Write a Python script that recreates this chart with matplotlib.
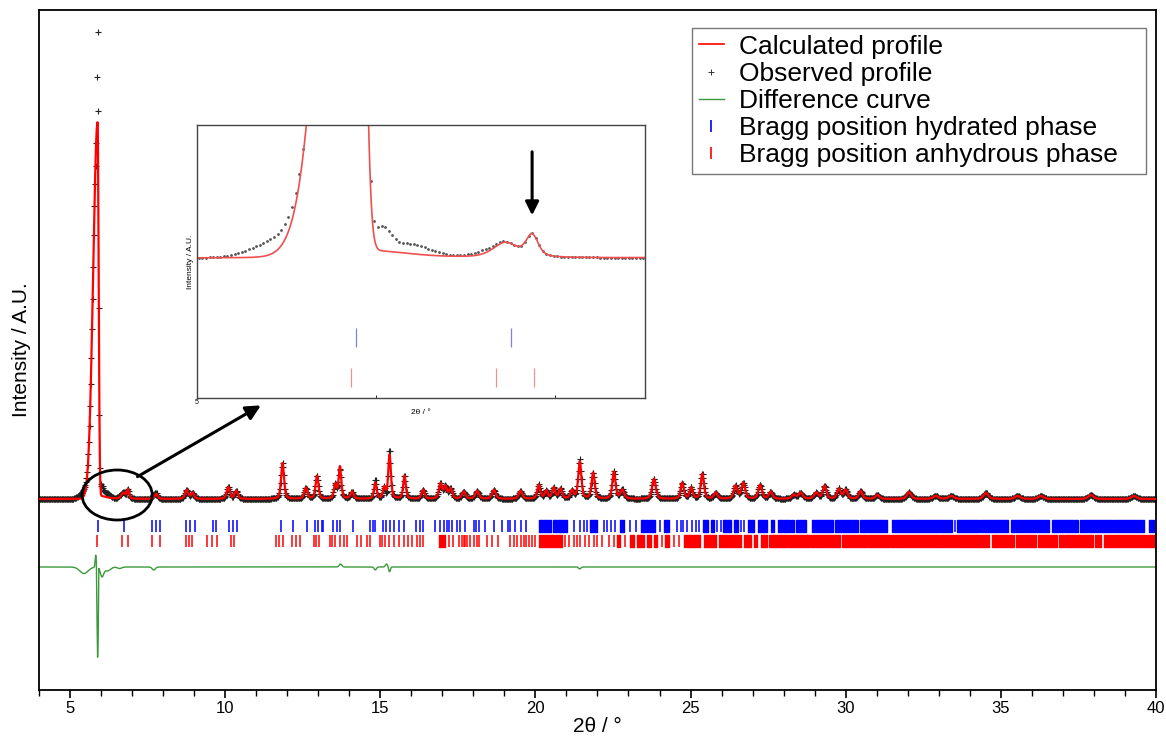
import numpy as np
import matplotlib.pyplot as plt
from matplotlib.lines import Line2D
from matplotlib.patches import Ellipse
from matplotlib.ticker import MultipleLocator

plt.rcParams['font.family'] = ['Liberation Sans', 'DejaVu Sans']

# main reflection (asymmetric, gaussian): position, height, hwhm left / right
main_pos = 5.89
main_height = 374
main_hw_left = 0.167
main_hw_right = 0.04

# other reflections of the calculated profile (pseudo-Voigt)
peak_pos = [5.97, 6.72, 6.87, 7.78, 8.76, 8.95, 10.10, 10.36, 11.85, 12.60,
            12.96, 13.55, 13.70, 14.09, 14.84, 15.13, 15.30, 15.78, 16.38, 16.94,
            17.10, 17.27, 17.69, 18.12, 18.66, 19.52, 20.11, 20.35, 20.59, 20.81,
            21.18, 21.43, 21.86, 22.53, 22.80, 23.82, 24.73, 25.02, 25.38, 25.81,
            26.45, 26.70, 27.24, 27.58, 28.33, 28.55, 29.05, 29.32, 29.78, 30.00,
            30.48, 31.02, 32.04, 32.90, 33.40, 34.52, 35.54, 36.29, 37.90, 39.29]
peak_height = [3, 6, 9, 5, 9, 6, 12, 8, 36, 11,
               23, 14, 32, 7, 16, 11, 44, 23, 9, 15,
               12, 10, 7, 8, 9, 8, 14, 8, 11, 10,
               8, 37, 26, 27, 9, 20, 16, 11, 25, 6,
               13, 16, 14, 7, 4, 6, 6, 13, 10, 9,
               8, 4, 7, 3, 3, 6, 3, 3, 4, 3]
peak_hw = [0.25, 0.08, 0.04, 0.06, 0.06, 0.06, 0.06, 0.06, 0.055, 0.06,
           0.055, 0.05, 0.05, 0.06, 0.05, 0.05, 0.05, 0.05, 0.06, 0.06,
           0.06, 0.06, 0.07, 0.07, 0.07, 0.07, 0.06, 0.06, 0.06, 0.06,
           0.06, 0.06, 0.06, 0.06, 0.07, 0.07, 0.06, 0.06, 0.06, 0.07,
           0.07, 0.07, 0.07, 0.07, 0.08, 0.08, 0.08, 0.07, 0.07, 0.07,
           0.07, 0.08, 0.08, 0.10, 0.10, 0.09, 0.10, 0.10, 0.10, 0.10]

# observed minus calculated deviations (gaussian): position, amplitude, hwhm
dev_pos = [5.45, 5.83, 6.03, 6.20, 6.60, 7.70, 13.72, 14.84, 15.20, 15.30, 21.43]
dev_amp = [6.5, -12, 9, 4, 1.5, 3, -3, 3, -3, 5, 2]
dev_hw = [0.16, 0.02, 0.06, 0.12, 0.08, 0.06, 0.05, 0.04, 0.04, 0.03, 0.04]

# observed points on top of the main reflection
top_obs_pos = [5.87, 5.89, 5.91]
top_obs_int = [422, 467, 388]

diff_offset = -68

# Bragg positions
hyd_ticks = [5.89, 6.75, 7.65, 7.78, 7.89, 8.74, 8.88, 9.03, 9.60, 9.70, 10.12,
             10.25, 10.38, 11.80, 12.20, 12.64, 12.90, 12.99, 13.12, 13.17, 13.49,
             13.60, 13.71, 14.12, 14.68, 14.78, 14.84, 15.09, 15.17, 15.32, 15.45,
             15.62, 15.78, 16.16, 16.27, 16.38, 16.77, 16.94, 17.04, 17.15, 17.20,
             17.31, 17.47, 17.58, 17.74, 18.01, 18.10, 18.17, 18.39, 18.66, 18.93,
             19.11, 19.19, 19.35, 19.52, 19.71, 21.24, 21.43, 21.56, 21.67, 22.20,
             22.31, 22.44, 22.58, 23.06, 23.23, 24.03, 24.55, 24.68, 24.77, 24.89,
             25.05, 25.16, 25.26, 25.86, 25.97, 26.61, 26.71, 33.52]
hyd_blocks = [(20.10, 20.50), (20.56, 21.03), (21.77, 22.00), (22.74, 22.87),
              (23.39, 23.62), (23.66, 23.87), (24.13, 24.29), (25.39, 25.55),
              (25.65, 25.74), (26.06, 26.29), (26.39, 26.52), (26.84, 27.03),
              (27.16, 27.48), (27.58, 27.68), (27.81, 28.20), (28.25, 28.35),
              (28.40, 28.73), (28.92, 29.60), (29.65, 30.40), (30.45, 31.34),
              (31.50, 32.10), (32.15, 33.44), (33.60, 34.30), (34.34, 35.22),
              (35.32, 36.55), (36.64, 37.50), (37.55, 38.60), (38.65, 39.61),
              (39.77, 39.94)]
anh_ticks = [5.86, 6.67, 6.88, 7.65, 7.90, 8.73, 8.82, 8.93, 9.41, 9.57, 9.73,
             10.18, 10.29, 11.65, 11.75, 11.88, 12.15, 12.29, 12.42, 12.87, 12.94,
             13.01, 13.37, 13.44, 13.55, 13.69, 13.82, 13.93, 14.25, 14.38, 14.58,
             14.66, 14.98, 15.05, 15.16, 15.27, 15.43, 15.62, 15.75, 15.91, 16.02,
             16.18, 16.29, 16.39, 17.20, 17.36, 17.53, 17.63, 17.69, 17.74, 17.80,
             17.90, 18.01, 18.12, 18.17, 18.44, 18.60, 18.78, 19.19, 19.30, 19.41,
             19.52, 19.62, 19.71, 19.78, 19.89, 20.00, 20.97, 21.07, 21.24, 21.35,
             21.45, 21.61, 21.72, 21.88, 21.99, 22.15, 22.37, 22.53, 22.90, 24.08,
             24.48, 24.62]
anh_blocks = [(16.88, 17.10), (20.11, 20.86), (22.64, 22.74), (23.06, 23.17),
              (23.28, 23.49), (23.60, 23.71), (23.81, 23.92), (24.18, 24.29),
              (24.78, 25.32), (25.43, 25.81), (25.91, 26.61), (26.72, 26.94),
              (27.04, 27.15), (27.26, 27.47), (27.52, 28.10), (28.14, 28.85),
              (28.89, 29.01), (29.05, 29.82), (29.87, 30.68), (30.72, 31.43),
              (31.47, 31.59), (31.63, 33.04), (33.08, 33.91), (33.95, 34.62),
              (34.70, 34.93), (34.97, 35.43), (35.48, 36.13), (36.20, 36.82),
              (36.86, 37.02), (37.06, 37.98), (38.02, 38.23), (38.33, 40.00)]


def pv(x, c, h, w, eta=0.5):
    d2 = ((x - c) / w) ** 2
    return h * (eta / (1 + d2) + (1 - eta) * np.exp(-np.log(2) * d2))


def calc_profile(x):
    w = np.where(x < main_pos, main_hw_left, main_hw_right)
    y = main_height * np.exp(-np.log(2) * ((x - main_pos) / w) ** 2)
    for c, h, hw in zip(peak_pos, peak_height, peak_hw):
        y = y + pv(x, c, h, hw)
    return y


x_fine = np.linspace(4, 40, 9000)
y_calc = calc_profile(x_fine)

x_obs = np.round(np.arange(4.01, 40.0, 0.02), 2)
y_obs = calc_profile(x_obs)
for c, a, hw in zip(dev_pos, dev_amp, dev_hw):
    y_obs = y_obs + a * np.exp(-np.log(2) * ((x_obs - c) / hw) ** 2)
for xo, yo in zip(top_obs_pos, top_obs_int):
    y_obs[np.argmin(np.abs(x_obs - xo))] = yo
y_diff = diff_offset + calc_profile(x_obs) - y_obs

fig = plt.figure(figsize=(11.66, 7.42), dpi=100)
ax = fig.add_axes([0.0334, 0.0701, 0.958, 0.9164])

ax.plot(x_obs, y_obs, ls='none', marker='+', ms=5, mew=0.8, color='#222222', zorder=2)
ax.plot(x_fine, y_calc, color='#ff0000', lw=1.6, zorder=3)
ax.plot(x_obs, y_diff, color='#3a9a3a', lw=1, zorder=2)

ax.vlines(hyd_ticks, -33, -21, color='#0000ff', lw=1.1)
ax.broken_barh([(a, b - a) for a, b in hyd_blocks], (-33, 12), color='#0000ff')
ax.vlines(anh_ticks, -48, -36, color='#ff0000', lw=1.1)
ax.broken_barh([(a, b - a) for a, b in anh_blocks], (-48, 12), color='#ff0000')

ax.set_xlim(4, 40)
ax.set_ylim(-191, 489)
ax.set_yticks([])
ax.xaxis.set_major_locator(MultipleLocator(5))
ax.xaxis.set_minor_locator(MultipleLocator(1))
ax.tick_params(axis='x', which='major', direction='out', length=6, width=1.2, pad=2)
ax.tick_params(axis='x', which='minor', direction='out', length=4, width=1.0)
for lab in ax.get_xticklabels():
    lab.set_family(['Liberation Sans Narrow', 'Liberation Sans'])
    lab.set_fontsize(12)
for sp in ax.spines.values():
    sp.set_linewidth(1.3)
ax.set_xlabel('2θ / °', fontsize=15, labelpad=1)
ax.set_ylabel('Intensity / A.U.', fontsize=15, labelpad=6)

ax.add_patch(Ellipse((6.52, 4), 2.26, 50, fill=False, ec='black', lw=2, zorder=4))
ax.annotate('', xy=(11.23, 95), xytext=(7.10, 21),
            arrowprops=dict(arrowstyle='-|>', color='black', lw=2.2, mutation_scale=22))

handles = [Line2D([], [], color='#ff0000', lw=1.2),
           Line2D([], [], ls='none', marker='+', ms=4, mew=0.7, color='#333333'),
           Line2D([], [], color='#3a9a3a', lw=1),
           Line2D([], [], ls='none', marker='|', ms=9, mew=1.2, color='#0000ff'),
           Line2D([], [], ls='none', marker='|', ms=9, mew=1.2, color='#ff0000')]
labels = ['Calculated profile', 'Observed profile', 'Difference curve',
          'Bragg position hydrated phase', 'Bragg position anhydrous phase']
leg = ax.legend(handles, labels, loc='upper left', mode='expand',
                bbox_to_anchor=(0.5846, 0.9735, 0.4065, 0),
                borderaxespad=0, fontsize=19, labelspacing=0.12, handlelength=0.95,
                handletextpad=0.6, borderpad=0.25, fancybox=False, framealpha=1,
                edgecolor='#777777')
leg.get_frame().set_linewidth(1)

# inset
axi = fig.add_axes([197 / 1166, (742 - 398) / 742, 448 / 1166, 273 / 742])
axi.plot(x_obs, y_obs, ls='none', marker='.', ms=2, color='#555555')
axi.plot(x_fine, y_calc, color='#ee5050', lw=1.2)
axi.vlines(hyd_ticks, -36.3, -28.6, color='#8080e0', lw=0.9)
axi.vlines(anh_ticks, -52.7, -44.9, color='#f09090', lw=0.9)
axi.set_xlim(5, 7.5)
axi.set_ylim(-57.1, 54.3)
axi.set_yticks([])
axi.set_xticks([5, 6, 7])
axi.set_xticklabels(['5', '', ''])
axi.tick_params(axis='x', direction='in', length=2, width=0.6, labelsize=5, pad=1)
for sp in axi.spines.values():
    sp.set_linewidth(1)
    sp.set_color('#444444')
axi.set_xlabel('2θ / °', fontsize=6, labelpad=2)
axi.set_ylabel('Intensity / A.U.', fontsize=6, labelpad=2)
axi.annotate('', xy=(6.87, 16.3), xytext=(6.87, 44.5),
             arrowprops=dict(arrowstyle='-|>', color='black', lw=2.2, mutation_scale=20))

fig.savefig('out.png', dpi=100)
